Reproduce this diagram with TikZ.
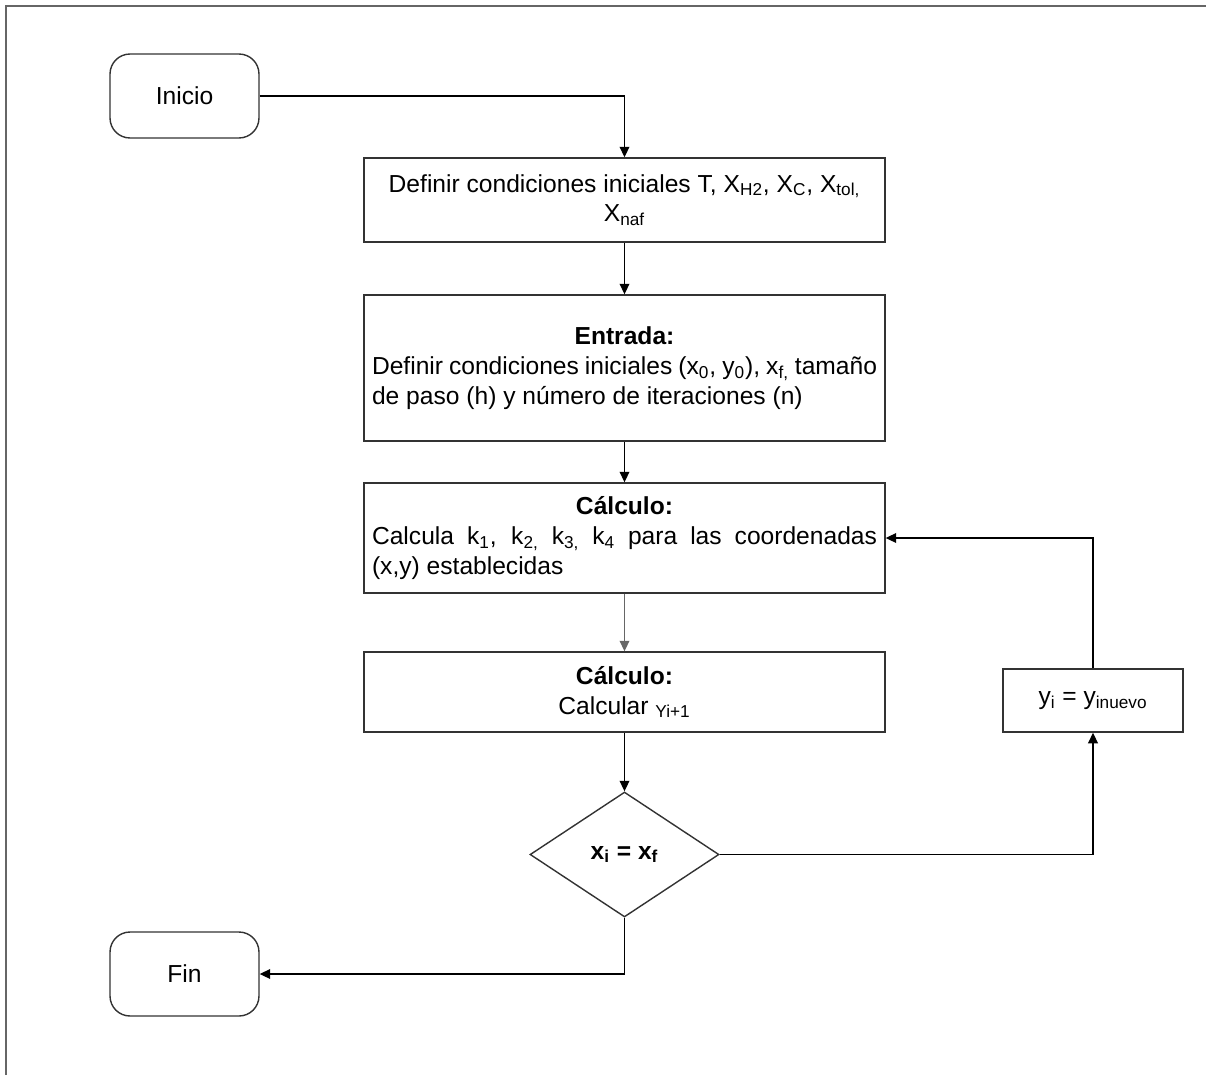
\documentclass[tikz,border=0pt]{standalone}
\usepackage{fontspec}
\setmainfont{Liberation Sans}
\usetikzlibrary{shapes.geometric,arrows.meta}

\begin{document}
\begin{tikzpicture}[x=0.02cm,y=-0.02cm,
  font=\fontsize{14}{17}\selectfont,
  terminal/.style={draw=black!80, line width=0.8pt, rounded corners=0.4cm, minimum width=2.98cm, minimum height=1.68cm},
  proceso/.style={draw=black!80, line width=0.8pt, minimum width=10.42cm, inner xsep=0.16cm, inner ysep=0pt},
  decision/.style={draw=black!80, line width=0.8pt, diamond, minimum width=3.78cm, minimum height=2.5cm, inner sep=0pt},
  flecha/.style={-{Triangle[length=6pt,width=5.5pt]}, line width=0.8pt}]
			\useasboundingbox (0,0) rectangle (1206,1075);
			% Frame
			\draw[black!60, line width=1.1pt] (6,1075) -- (6,6) -- (1206,6);

			% Nodes
			\node[terminal] (inicio) at (184.5,96) {Inicio};
			\node[proceso, minimum height=1.68cm, align=center] (cond) at (624.5,200)
			  {Definir condiciones iniciales T, X\textsubscript{H2}, X\textsubscript{C}, X\textsubscript{tol,}\\X\textsubscript{naf}};
			\node[proceso, minimum height=2.92cm, text width=10.1cm, align=justify] (entrada) at (624.5,368)
			  {\makebox[10.1cm]{\textbf{Entrada:}}\\
			   \makebox[10.1cm][s]{Definir condiciones iniciales (x\textsubscript{0}, y\textsubscript{0}), x\textsubscript{f,} tamaño}\\
			   de paso (h) y número de iteraciones (n)};
			\node[proceso, minimum height=2.2cm, text width=10.1cm, align=justify] (calculo) at (624.5,538)
			  {\makebox[10.1cm]{\textbf{Cálculo:}}\\
			   \makebox[10.1cm][s]{Calcula k\textsubscript{1}, k\textsubscript{2,} k\textsubscript{3,} k\textsubscript{4} para las coordenadas}\\
			   (x,y) establecidas};
			\node[proceso, minimum height=1.6cm, align=center] (calcular) at (624.5,692)
			  {\textbf{Cálculo:}\\Calcular \textsubscript{Yi+1}};
			\node[decision] (condicion) at (624.5,854.5) {\textbf{x\textsubscript{i} = x\textsubscript{f}}};
			\node[draw=black!80, line width=0.8pt, minimum width=3.6cm, minimum height=1.26cm] (nuevo) at (1093,700.5)
			  {y\textsubscript{i} = y\textsubscript{inuevo}};
			\node[terminal] (fin) at (184.5,974) {Fin};

			% Connectors
			\draw[flecha] (inicio.east) -| (cond.north);
			\draw[flecha] (cond) -- (entrada);
			\draw[flecha] (entrada) -- (calculo);
			\draw[flecha, black!60] (calculo) -- (calcular);
			\draw[flecha] (calcular) -- (condicion);
			\draw[flecha] (condicion.east) -| (nuevo.south);
			\draw[flecha] (nuevo.north) |- (calculo.east);
			\draw[flecha] (condicion.south) |- (fin.east);
		\end{tikzpicture}
\end{document}
